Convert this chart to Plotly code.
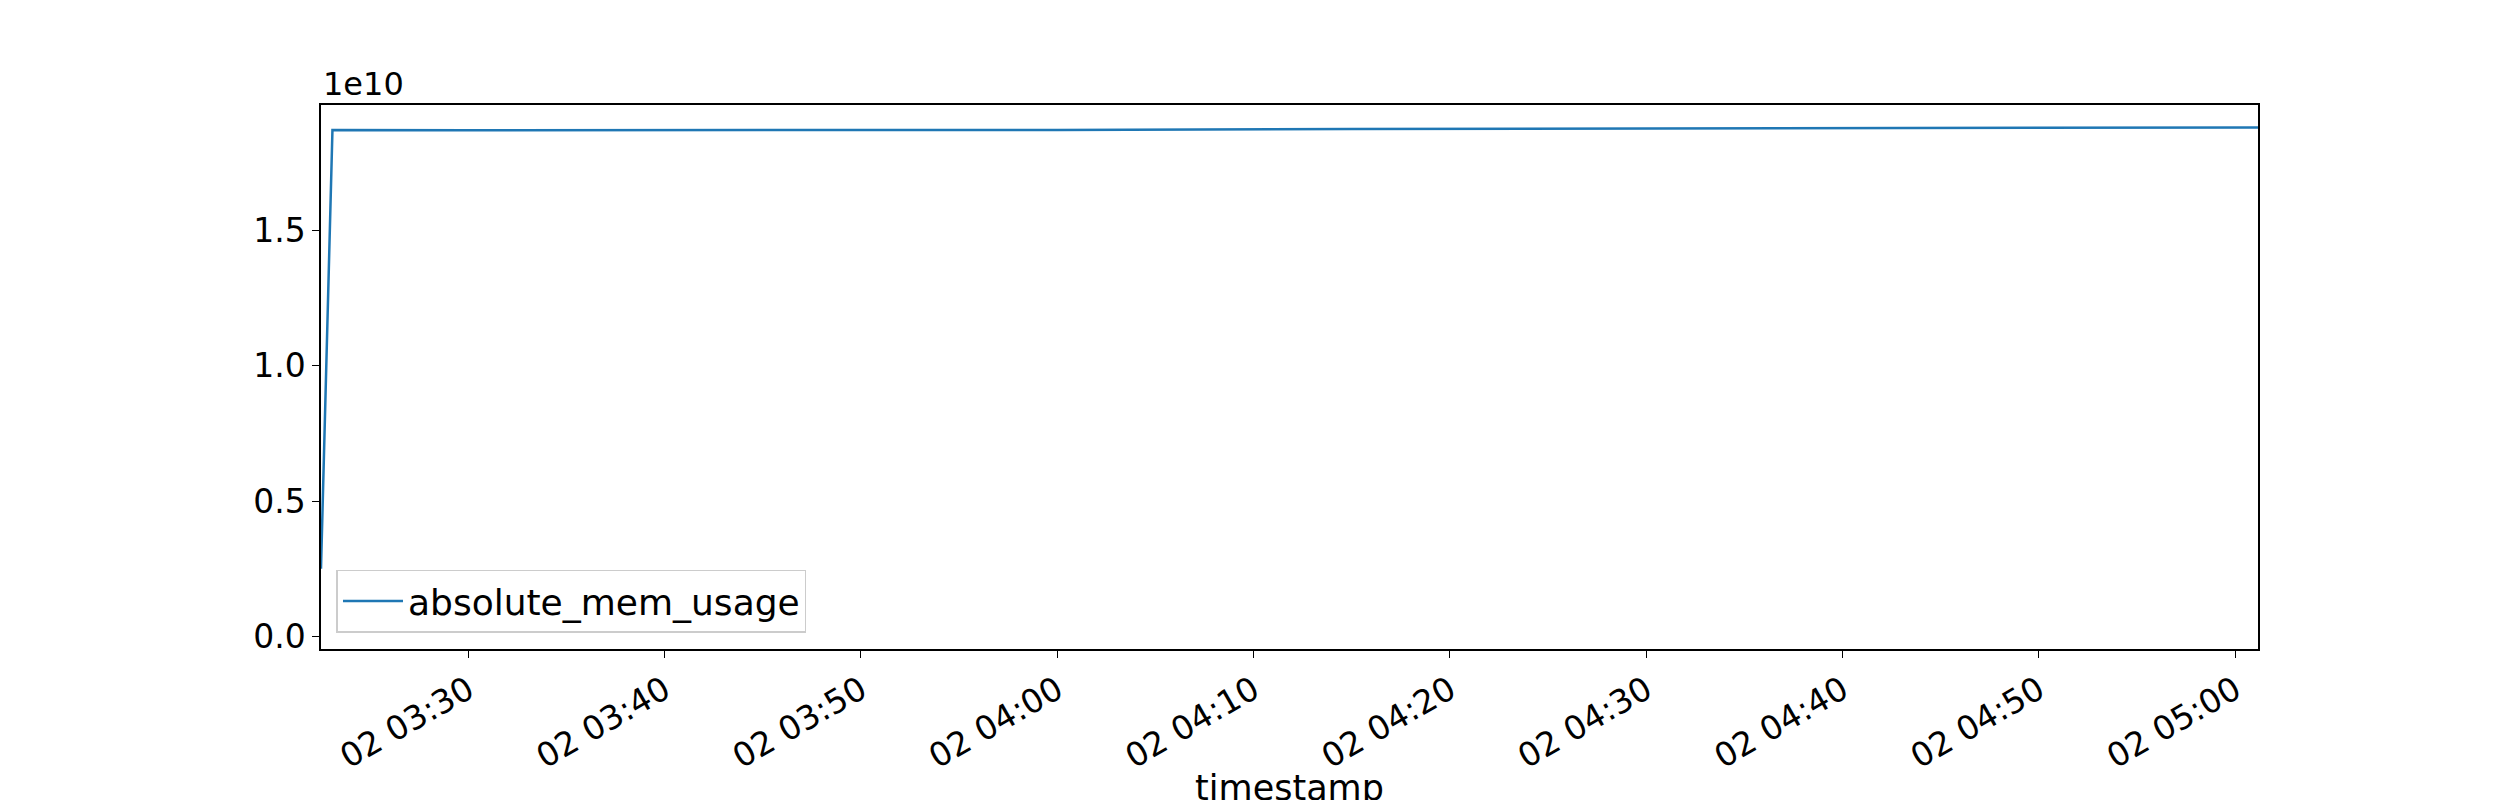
import plotly.graph_objects as go

timestamps = ["2023-01-02 03:22:30", "2023-01-02 03:23:05", "2023-01-02 03:30:00",
              "2023-01-02 03:45:00", "2023-01-02 04:00:00", "2023-01-02 04:15:00",
              "2023-01-02 04:30:00", "2023-01-02 04:45:00", "2023-01-02 05:01:10"]
mem_usage = [0.25e10, 1.872e10, 1.871e10, 1.871e10, 1.872e10, 1.875e10,
             1.877e10, 1.878e10, 1.881e10]

ytick_vals = [0, 0.5e10, 1.0e10, 1.5e10]
ytick_text = ["0.0", "0.5", "1.0", "1.5"]
xtick_vals = ["2023-01-02 03:30", "2023-01-02 03:40", "2023-01-02 03:50", "2023-01-02 04:00",
              "2023-01-02 04:10", "2023-01-02 04:20", "2023-01-02 04:30", "2023-01-02 04:40",
              "2023-01-02 04:50", "2023-01-02 05:00"]

fig = go.Figure()
fig.add_trace(go.Scatter(x=timestamps, y=mem_usage, mode="lines",
                         name="absolute_mem_usage", line=dict(color="#1f77b4", width=2.5)))

axis_style = dict(showline=True, linecolor="black", linewidth=1.5, mirror=True,
                  showgrid=False, zeroline=False, ticks="outside", ticklen=7,
                  tickcolor="black", automargin=False, tickfont=dict(size=33))
fig.update_xaxes(range=[timestamps[0], timestamps[-1]], tickvals=xtick_vals,
                 tickformat="%d %H:%M", tickangle=-30, title_text="timestamp",
                 title_font_size=35, title_standoff=8, **axis_style)
fig.update_yaxes(range=[-0.047e10, 1.964e10], tickvals=ytick_vals,
                 ticktext=ytick_text, **axis_style)

fig.add_annotation(text="1e10", xref="paper", yref="paper", x=0, y=1,
                   xanchor="left", yanchor="bottom", showarrow=False,
                   font=dict(size=32))

fig.update_layout(
    width=2500, height=800,
    margin=dict(l=313, r=250, t=97, b=159),
    plot_bgcolor="white", paper_bgcolor="white",
    font=dict(family="DejaVu Sans", size=33, color="black"),
    showlegend=True,
    legend=dict(x=0.008, y=0.03, xanchor="left", yanchor="bottom",
                bordercolor="#cccccc", borderwidth=1.5, bgcolor="rgba(255,255,255,0.8)",
                font=dict(size=36), itemwidth=60),
)

fig.write_html("out.html")
